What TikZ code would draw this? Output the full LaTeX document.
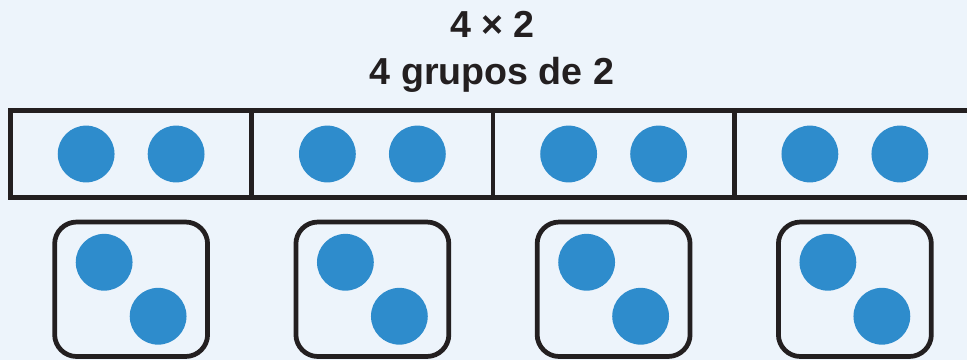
\documentclass[tikz,border=0pt]{standalone}
\usepackage{fontspec}
\setmainfont{Liberation Sans}
\usetikzlibrary{positioning}
\definecolor{bgblue}{RGB}{237,244,251}
\definecolor{dotblue}{RGB}{46,140,204}
\definecolor{inkline}{RGB}{35,31,32}
\tikzset{
  cellbox/.style={draw=inkline, line width=2.7pt, minimum width=4.825cm, minimum height=1.74cm, inner sep=0pt},
  groupbox/.style={draw=inkline, line width=2.7pt, rounded corners=0.44cm, minimum width=3.06cm, minimum height=2.69cm, inner sep=0pt},
  dot/.style={circle, fill=dotblue, minimum size=1.136cm, inner sep=0pt},
  title/.style={font=\fontsize{21.4}{24}\selectfont\bfseries, text=inkline, anchor=base, inner sep=0pt}
}

\begin{document}
\begin{tikzpicture}[x=0.02cm, y=-0.02cm]
\fill[bgblue] (0,0) rectangle (967,360);
\useasboundingbox (0,0) rectangle (967,360);
\node[title] (prod) at (492.5,37.5) {4 × 2};
\node[title] (words) at (492,84.3) {4 grupos de 2};
\foreach \i in {1,...,4} {
  \node[cellbox] (cell\i) at ({10.5+241.25*(\i-0.5)},154) {};
  \node[dot] (a\i) at ([xshift=-0.9cm]cell\i.center) {};
  \node[dot] (b\i) at ([xshift=0.9cm]cell\i.center) {};
  \node[groupbox] (group\i) at ({10.5+241.25*(\i-0.5)},289.25) {};
  \node[dot] (c\i) at ([xshift=-0.54cm, yshift=0.54cm]group\i.center) {};
  \node[dot] (d\i) at ([xshift=0.54cm, yshift=-0.54cm]group\i.center) {};
}
\end{tikzpicture}
\end{document}
